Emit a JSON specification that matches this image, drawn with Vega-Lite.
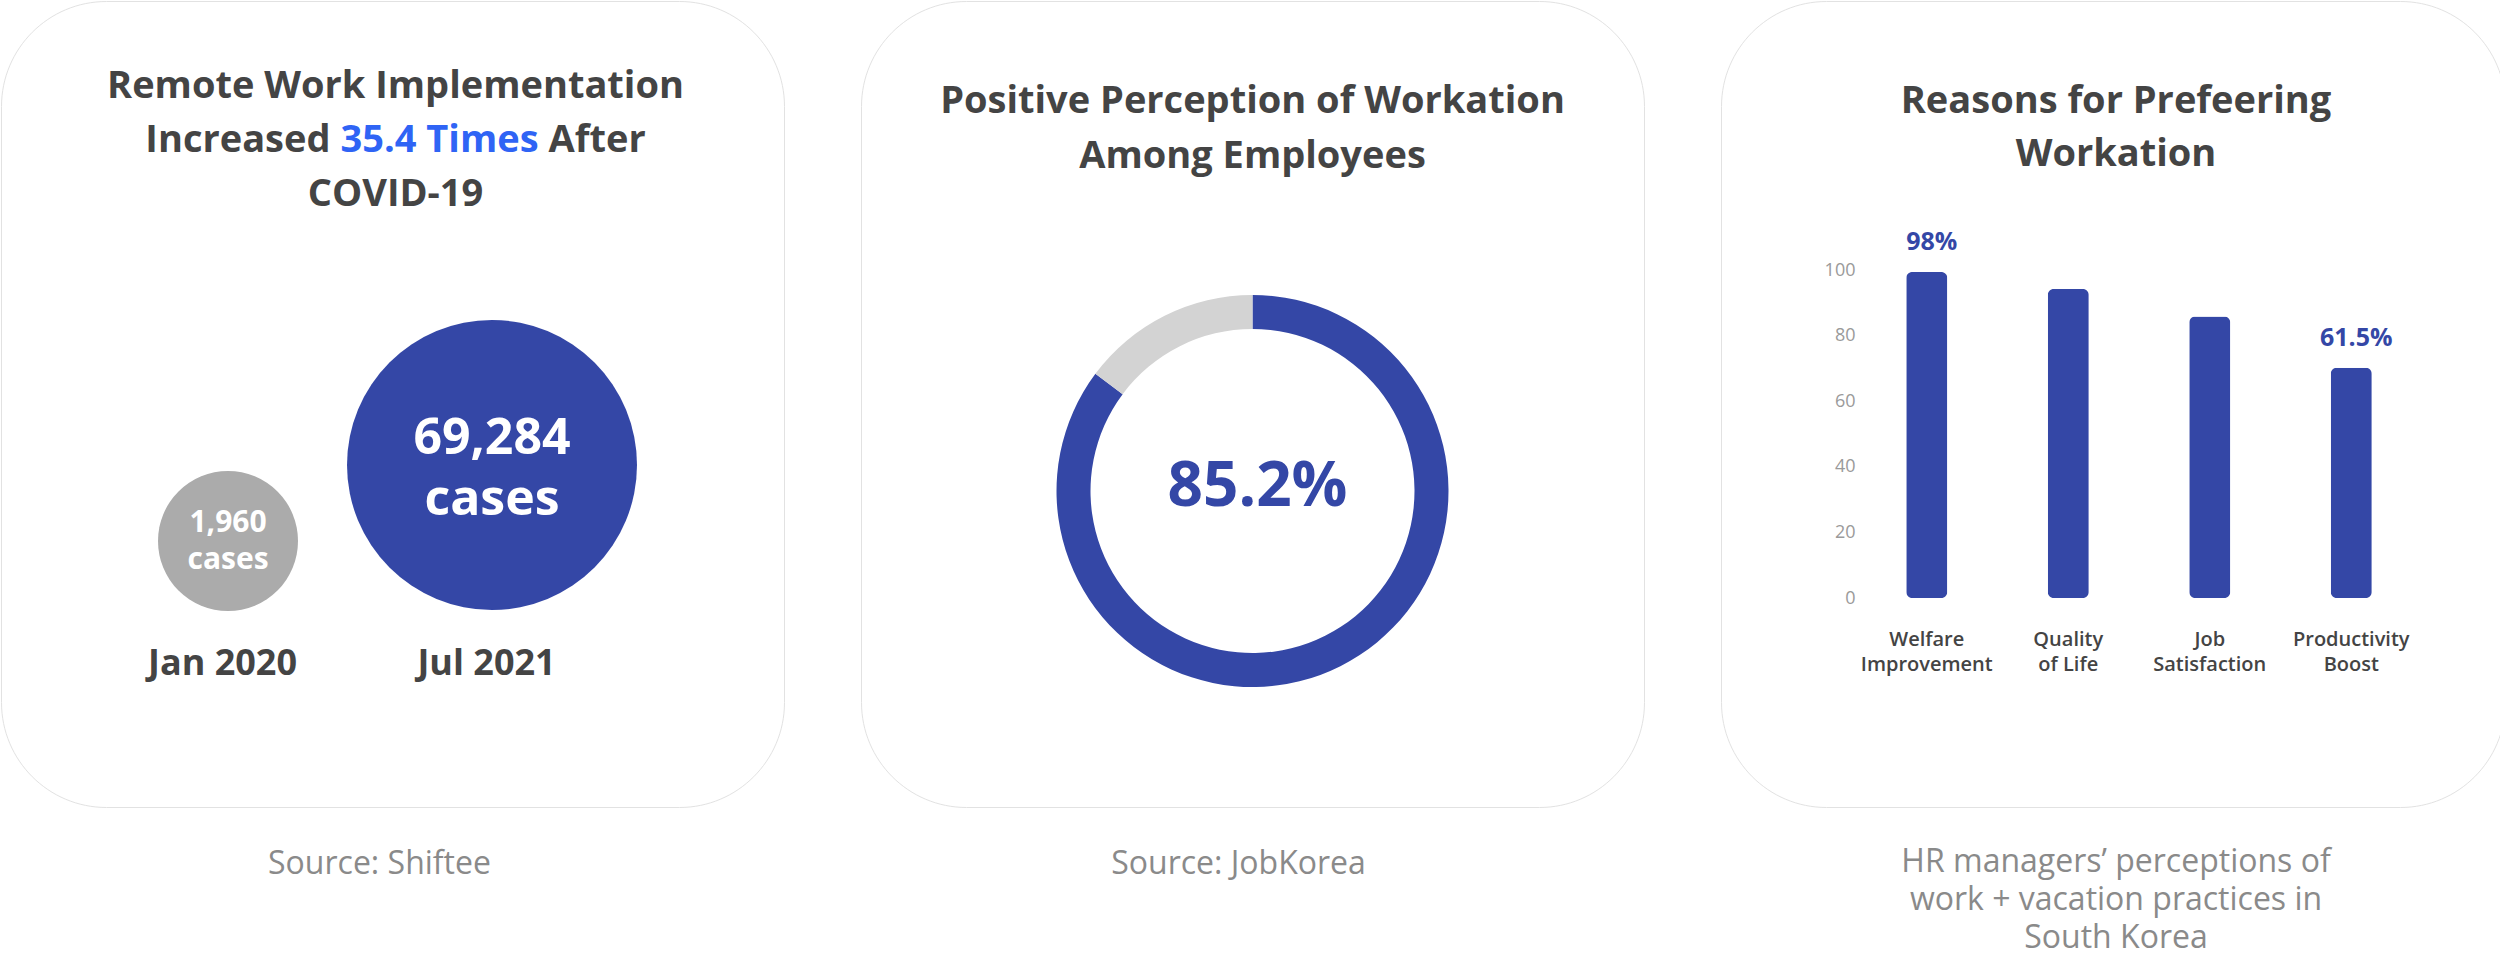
{
  "$schema": "https://vega.github.io/schema/vega-lite/v6.json",
  "background": "#ffffff",
  "padding": 0,
  "spacing": 75,
  "config": {
    "view": {"fill": "#ffffff", "stroke": "#e2e2e2", "strokeWidth": 1, "cornerRadius": 105},
    "font": "Open Sans",
    "text": {"font": "Open Sans"}
  },
  "resolve": {"scale": {"color": "independent", "size": "independent", "theta": "independent"}},
  "hconcat": [
    {
      "width": 783,
      "height": 806,
      "title": {"text": "Source: Shiftee", "orient": "bottom", "anchor": "middle", "frame": "group", "offset": 42, "dx": -13, "fontSize": 32, "fontWeight": 400, "color": "#8a8a8a", "font": "Open Sans"},
      "layer": [
        {
          "data": {"values": [
            {"line": 1, "part": "plain", "text": "Remote Work Implementation"},
            {"line": 2, "part": "pre", "text": "Increased"},
            {"line": 2, "part": "hl", "text": "35.4 Times"},
            {"line": 2, "part": "post", "text": "After"},
            {"line": 3, "part": "plain", "text": "COVID-19"}
          ]},
          "encoding": {
            "y": {"field": "line", "type": "ordinal", "scale": {"type": "point", "range": [86, 194], "padding": 0}, "axis": null},
            "text": {"field": "text", "type": "nominal"}
          },
          "layer": [
            {"transform": [{"filter": "datum.part == 'plain'"}], "mark": {"type": "text", "fontSize": 38, "fontWeight": 700, "color": "#444444", "baseline": "middle", "align": "center", "dx": 3}},
            {"transform": [{"filter": "datum.part == 'pre'"}], "mark": {"type": "text", "fontSize": 38, "fontWeight": 700, "color": "#444444", "baseline": "middle", "align": "right", "dx": -62}},
            {"transform": [{"filter": "datum.part == 'hl'"}], "mark": {"type": "text", "fontSize": 38, "fontWeight": 700, "color": "#2f64f5", "baseline": "middle", "align": "center", "dx": 47}},
            {"transform": [{"filter": "datum.part == 'post'"}], "mark": {"type": "text", "fontSize": 38, "fontWeight": 700, "color": "#444444", "baseline": "middle", "align": "left", "dx": 156}}
          ]
        },
        {
          "data": {"values": [
            {"period": "Jan 2020", "cases": 1960, "label": "1,960\ncases"},
            {"period": "Jul 2021", "cases": 69284, "label": "69,284\ncases"}
          ]},
          "encoding": {
            "x": {"field": "period", "type": "nominal", "scale": {"type": "point", "domain": ["Jan 2020", "Jul 2021"], "range": [227, 491], "padding": 0},
              "axis": {"orient": "bottom", "offset": -144, "domain": false, "ticks": false, "tickSize": 0, "grid": false, "title": null, "labelPadding": 0, "labelOffset": -6, "labelBaseline": "middle", "labelAngle": 0, "labelFontSize": 36, "labelFontWeight": 700, "labelColor": "#444444", "labelFont": "Open Sans"}},
            "y": {"field": "cases", "type": "quantitative", "scale": {"domain": [1960, 69284], "range": [540, 464]}, "axis": null}
          },
          "layer": [
            {
              "mark": {"type": "point", "shape": "circle", "filled": true, "opacity": 1, "strokeWidth": 0},
              "encoding": {
                "size": {"field": "cases", "type": "quantitative", "scale": {"domain": [1960, 69284], "range": [19600, 84100]}, "legend": null},
                "color": {"field": "period", "type": "nominal", "scale": {"domain": ["Jan 2020", "Jul 2021"], "range": ["#ababab", "#3447a6"]}, "legend": null}
              }
            },
            {
              "transform": [{"filter": "datum.cases < 10000"}],
              "mark": {"type": "text", "lineBreak": "\n", "fontSize": 30, "lineHeight": 37, "fontWeight": 700, "color": "#ffffff", "baseline": "middle", "align": "center", "dy": -18},
              "encoding": {"text": {"field": "label", "type": "nominal"}}
            },
            {
              "transform": [{"filter": "datum.cases > 10000"}],
              "mark": {"type": "text", "lineBreak": "\n", "fontSize": 50, "lineHeight": 61, "fontWeight": 700, "color": "#ffffff", "baseline": "middle", "align": "center", "dy": -26},
              "encoding": {"text": {"field": "label", "type": "nominal"}}
            }
          ]
        }
      ],
      "resolve": {"scale": {"x": "independent", "y": "independent"}}
    },
    {
      "width": 783,
      "height": 806,
      "title": {"text": "Source: JobKorea", "orient": "bottom", "anchor": "middle", "frame": "group", "offset": 42, "dx": -14, "fontSize": 32, "fontWeight": 400, "color": "#8a8a8a", "font": "Open Sans"},
      "layer": [
        {
          "data": {"values": [
            {"line": 1, "text": "Positive Perception of Workation"},
            {"line": 2, "text": "Among Employees"}
          ]},
          "mark": {"type": "text", "fontSize": 38, "fontWeight": 700, "color": "#444444", "baseline": "middle", "align": "center"},
          "encoding": {
            "y": {"field": "line", "type": "ordinal", "scale": {"type": "point", "range": [101, 156], "padding": 0}, "axis": null},
            "text": {"field": "text", "type": "nominal"}
          }
        },
        {
          "data": {"values": [
            {"category": "Positive", "value": 85.2, "label": "85.2%"},
            {"category": "Other", "value": 14.8, "label": "14.8%"}
          ]},
          "layer": [
            {
              "mark": {"type": "arc", "outerRadius": 196, "innerRadius": 162, "yOffset": 87},
              "encoding": {
                "theta": {"field": "value", "type": "quantitative", "stack": true},
                "order": {"field": "value", "type": "quantitative", "sort": "descending"},
                "color": {"field": "category", "type": "nominal", "scale": {"domain": ["Positive", "Other"], "range": ["#3447a6", "#d3d3d3"]}, "legend": null}
              }
            },
            {
              "transform": [{"filter": "datum.category == 'Positive'"}],
              "mark": {"type": "text", "fontSize": 62, "fontWeight": 700, "color": "#3447a6", "baseline": "middle", "align": "center", "yOffset": 83, "dx": 5},
              "encoding": {"text": {"field": "label", "type": "nominal"}}
            }
          ]
        }
      ],
      "resolve": {"scale": {"y": "independent", "theta": "independent"}}
    },
    {
      "width": 784,
      "height": 806,
      "title": {"text": ["HR managers’ perceptions of", "work + vacation practices in", "South Korea"], "orient": "bottom", "anchor": "middle", "frame": "group", "offset": 40, "dx": 3, "fontSize": 32, "lineHeight": 38, "fontWeight": 400, "color": "#8a8a8a", "font": "Open Sans"},
      "layer": [
        {
          "data": {"values": [
            {"line": 1, "text": "Reasons for Prefeering"},
            {"line": 2, "text": "Workation"}
          ]},
          "mark": {"type": "text", "fontSize": 38, "fontWeight": 700, "color": "#444444", "baseline": "middle", "align": "center", "dx": 3},
          "encoding": {
            "y": {"field": "line", "type": "ordinal", "scale": {"type": "point", "range": [101, 154], "padding": 0}, "axis": null},
            "text": {"field": "text", "type": "nominal"}
          }
        },
        {
          "data": {"values": [
            {"reason": "Welfare Improvement", "value": 99.4, "label": "98%"},
            {"reason": "Quality of Life", "value": 94.2, "label": ""},
            {"reason": "Job Satisfaction", "value": 85.8, "label": ""},
            {"reason": "Productivity Boost", "value": 70.2, "label": "61.5%"}
          ]},
          "encoding": {
            "x": {"field": "reason", "type": "nominal", "sort": null,
              "scale": {"type": "band", "range": [135, 701], "paddingInner": 0.71, "paddingOuter": 0.355},
              "axis": {"orient": "bottom", "offset": -168, "domain": false, "ticks": false, "tickSize": 0, "grid": false, "title": null, "labelPadding": 0, "labelBaseline": "middle", "labelAngle": 0, "labelFontSize": 20, "labelFontWeight": 600, "labelColor": "#444444", "labelFont": "Open Sans", "labelLineHeight": 25,
                "labelExpr": "datum.label == 'Quality of Life' ? ['Quality', 'of Life'] : split(datum.label, ' ')"}},
            "y": {"field": "value", "type": "quantitative", "scale": {"domain": [0, 100], "range": [597, 269]},
              "axis": {"orient": "left", "offset": -134, "domain": false, "ticks": false, "tickSize": 0, "grid": false, "title": null, "labelPadding": 0, "values": [0, 20, 40, 60, 80, 100], "labelFontSize": 18, "labelFontWeight": 400, "labelColor": "#9a9a9a", "labelFont": "Open Sans"}}
          },
          "layer": [
            {"mark": {"type": "bar", "color": "#3447a6", "cornerRadius": 6}},
            {"mark": {"type": "text", "fontSize": 25, "fontWeight": 700, "color": "#3447a6", "baseline": "alphabetic", "align": "center", "dy": -22, "dx": 5},
              "encoding": {"text": {"field": "label", "type": "nominal"}}}
          ]
        }
      ],
      "resolve": {"scale": {"y": "independent", "x": "independent"}}
    }
  ]
}
